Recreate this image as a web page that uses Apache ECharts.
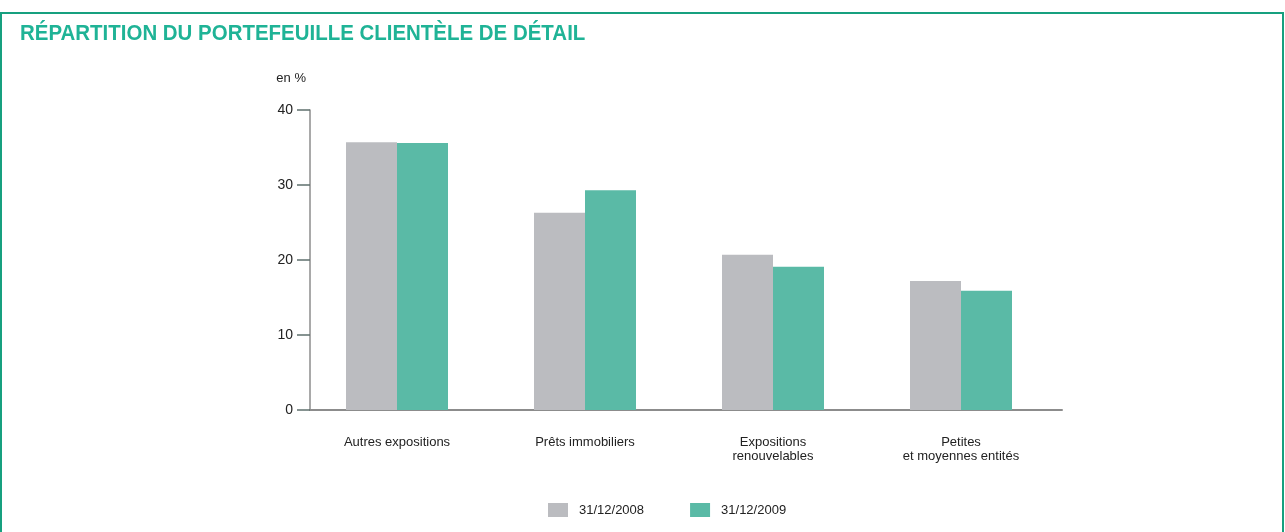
<!DOCTYPE html>
<html>
<head>
<meta charset="utf-8">
<script src="https://cdn.jsdelivr.net/npm/echarts@6/dist/echarts.min.js"></script>
<style>
  html, body { margin: 0; padding: 0; background: #fff; }
  #chart { width: 1285px; height: 532px; }
</style>
</head>
<body>
<div id="chart"></div>
<script>
const categories = ['Autres expositions', 'Prêts immobiliers', 'Expositions\nrenouvelables', 'Petites\net moyennes entités']
const seriesNames = ['31/12/2008', '31/12/2009']
const values2008 = [35.7, 26.3, 20.7, 17.2]
const values2009 = [35.6, 29.3, 19.1, 15.9]
const yTicks = [0, 10, 20, 30, 40]

const FONT = "'Liberation Sans Narrow', 'Arial Narrow', 'Liberation Sans', sans-serif"
const colors = ['#bbbcc0', '#5abaa6']

const chart = echarts.init(document.getElementById('chart'))

chart.setOption({
  animation: false,
  color: colors,
  textStyle: { fontFamily: FONT },
  graphic: [
    {
      type: 'rect',
      shape: { x: 1, y: 13, width: 1282, height: 530 },
      style: { fill: 'none', stroke: '#17a07f', lineWidth: 2 }
    },
    {
      type: 'text',
      x: 20,
      y: 23,
      scaleX: 0.93,
      style: {
        text: 'RÉPARTITION DU PORTEFEUILLE CLIENTÈLE DE DÉTAIL',
        fill: '#1fb396',
        font: "bold 22px " + FONT
      }
    }
  ],
  legend: {
    left: 548,
    top: 503,
    padding: 0,
    itemWidth: 20,
    itemHeight: 14,
    itemGap: 46,
    icon: 'rect',
    data: seriesNames,
    textStyle: { fontSize: 13, color: '#222', padding: [0, 0, 0, 6], fontFamily: FONT }
  },
  grid: [
    { left: 303, width: 752, top: 110, height: 300 },
    { left: 310, width: 752, top: 110, height: 300 }
  ],
  xAxis: [
    {
      type: 'category',
      gridIndex: 0,
      data: categories,
      axisLine: { show: false },
      axisTick: { show: false },
      axisLabel: {
        margin: 25,
        fontSize: 13,
        lineHeight: 14,
        color: '#222',
        fontFamily: FONT,
        interval: 0
      }
    },
    {
      type: 'category',
      gridIndex: 1,
      data: categories.map(() => ''),
      axisLine: { show: true, lineStyle: { color: '#8c8c8c', width: 2 } },
      axisTick: { show: false },
      axisLabel: { show: false }
    }
  ],
  yAxis: [
    {
      type: 'value',
      gridIndex: 0,
      min: 0,
      max: 40,
      interval: 10,
      show: false
    },
    {
      type: 'value',
      gridIndex: 1,
      min: yTicks[0],
      max: yTicks[yTicks.length - 1],
      interval: 10,
      name: 'en %',
      nameLocation: 'end',
      nameGap: 25,
      nameTextStyle: { fontSize: 13, color: '#222', align: 'right', padding: [0, 4, 0, 0], fontFamily: FONT },
      axisLine: { show: true, lineStyle: { color: '#8c8c8c', width: 1.5 } },
      axisTick: { show: true, length: 13, lineStyle: { color: '#5f706d', width: 1.5 } },
      splitLine: { show: false },
      axisLabel: {
        margin: 17,
        fontSize: 14,
        color: '#222',
        fontFamily: FONT,
        padding: [0, 0, 6, 0]
      }
    }
  ],
  series: [
    {
      name: seriesNames[0],
      type: 'bar',
      xAxisIndex: 0,
      yAxisIndex: 0,
      barWidth: 51,
      barGap: '0%',
      data: values2008
    },
    {
      name: seriesNames[1],
      type: 'bar',
      xAxisIndex: 0,
      yAxisIndex: 0,
      barWidth: 51,
      barGap: '0%',
      data: values2009
    }
  ]
})
</script>
</body>
</html>
